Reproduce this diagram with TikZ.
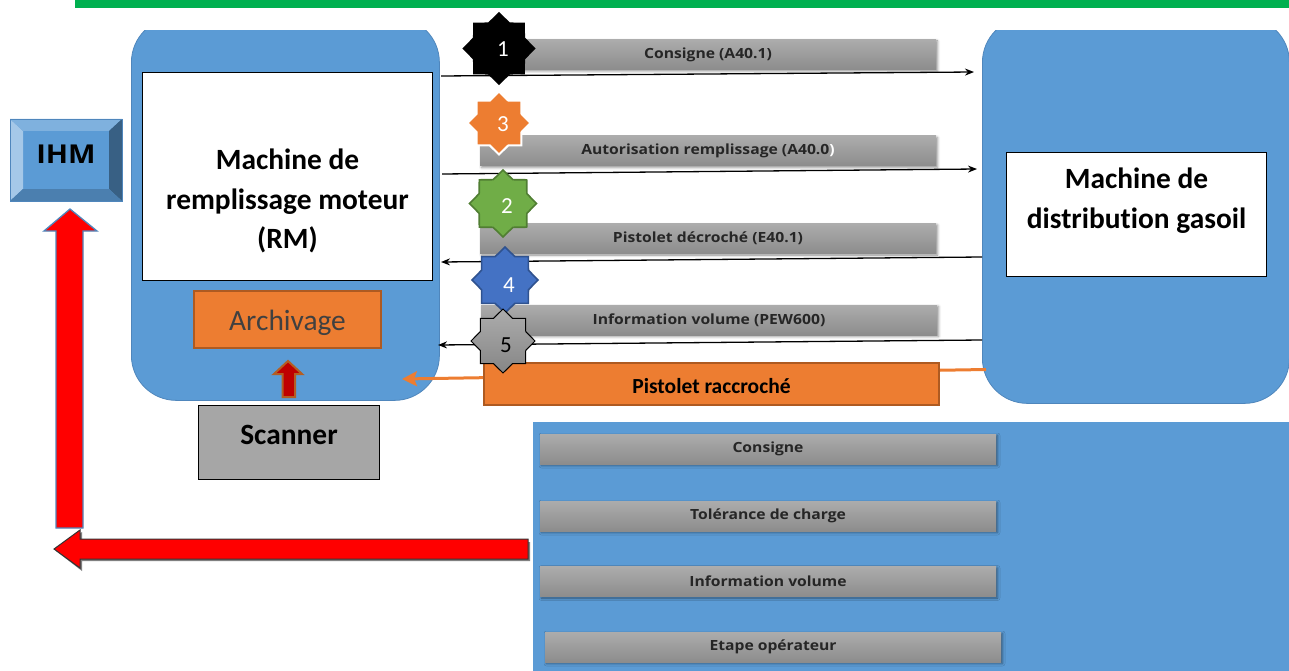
\documentclass[tikz,border=0pt]{standalone}
\usepackage{fontspec}
\setmainfont{Carlito}[Ligatures=NoCommon]
\newfontfamily\barfont[FakeStretch=1.12]{Open Sans}
\usetikzlibrary{shapes.geometric,shadows.blur,arrows.meta}
\definecolor{panelblue}{HTML}{5B9BD5}
\definecolor{panelline}{HTML}{4F86BC}
\definecolor{orangeA}{HTML}{ED7D31}
\definecolor{orangeD}{HTML}{AE5A21}
\definecolor{greenS}{HTML}{70AD47}
\definecolor{greenD}{HTML}{507E32}
\definecolor{blueS}{HTML}{4472C4}
\definecolor{blueD}{HTML}{2F528F}
\definecolor{topgreen}{HTML}{00B050}
\tikzset{
  x=1pt,y=-1pt,
  panel/.style={draw=panelline,line width=0.8pt,fill=panelblue,rounded corners=45pt,inner sep=0pt},
  whitebox/.style={draw=black,line width=1pt,fill=white,inner sep=2pt},
  boxtext/.style={align=center,font=\fontsize{29.4}{39.5}\selectfont\bfseries},
  graybar/.style={minimum width=456pt,minimum height=30pt,inner sep=0pt,top color=gray!65!white,bottom color=gray!90!white,
    font=\barfont\bfseries\fontsize{14}{16}\selectfont,text=black!85,
    blur shadow={shadow xshift=1.5pt,shadow yshift=-1.5pt,shadow blur radius=2.5pt,shadow opacity=45}},
  starbase/.style={star,star points=8,star point ratio=1.3,inner sep=0pt,minimum size=#1,line width=1.6pt,miter limit=10},
  num/.style={font=\fontsize{23}{26}\selectfont,text=white},
  flow/.style={line width=1.3pt,black,-{Stealth[length=9pt,width=7pt]}},
}
\begin{document}
\begin{tikzpicture}
\useasboundingbox (0,0) rectangle (1289,671);
\fill[topgreen] (75,0) rectangle (1289,8.5);

% panels
\begin{scope}
\clip (0,31) rectangle (1289,671);
\node[panel,minimum width=308pt,minimum height=383pt,anchor=north west] (rm) at (131,17) {};
\node[panel,minimum width=307pt,minimum height=386pt,anchor=north west] (dist) at (982,17) {};
\end{scope}
\node[draw=none,fill=panelblue,minimum width=756pt,minimum height=249pt,inner sep=0pt,anchor=north west] (info) at (533,422) {};

% gray bars
\node[graybar] (b1) at (708,54.5) {Consigne (A40.1)};
\node[graybar] (b2) at (708,151) {Autorisation remplissage (A40.0\textcolor{white}{)}};
\node[graybar] (b3) at (708,238.5) {Pistolet décroché (E40.1)};
\node[graybar] (b4) at (709,320) {Information volume (PEW600)};
\node[graybar] (c1) at (768,449) {Consigne};
\node[graybar] (c2) at (768,516) {Tolérance de charge};
\node[graybar] (c3) at (768,581.5) {Information volume};
\node[graybar] (c4) at (773,647) {Etape opérateur};

% boxes
\node[whitebox,minimum width=290pt,minimum height=208pt,anchor=north west,
  label={[boxtext,yshift=-24.5pt]center:{Machine de\\remplissage moteur\\(RM)}}] (rmbox) at (142,72) {};
\node[whitebox,minimum width=260pt,minimum height=124pt,anchor=north west,
  label={[boxtext,yshift=14pt]center:{Machine de\\distribution gasoil}}] (distbox) at (1006,152) {};
\node[draw=orangeD,line width=2pt,fill=orangeA,minimum width=187pt,minimum height=57pt,inner sep=0pt,text=black!75,
  text height=28pt,text depth=6pt,font=\fontsize{29.4}{32}\selectfont] (arch) at (287.5,319.5) {Archivage};
\node[draw=black,line width=1pt,fill=black!35,minimum width=181pt,minimum height=74pt,inner sep=0pt,
  text height=20pt,text depth=16pt,font=\fontsize{29.4}{32}\selectfont\bfseries] (scan) at (289,442.5) {Scanner};

% IHM bevel
\fill[panelblue] (10,119) rectangle (122,201);
\fill[panelblue!55!white] (10,119) -- (23,131) -- (23,189) -- (10,201) -- cycle;
\fill[panelblue!78!white] (10,119) -- (122,119) -- (109,131) -- (23,131) -- cycle;
\fill[panelblue!62!black] (122,119) -- (122,201) -- (109,189) -- (109,131) -- cycle;
\fill[panelblue!82!black] (10,201) -- (122,201) -- (109,189) -- (23,189) -- cycle;
\node[draw=panelline,line width=0.6pt,minimum width=112pt,minimum height=82pt,inner sep=0pt,
  text height=18pt,text depth=11pt,font=\barfont\bfseries\fontsize{26}{28}\selectfont] (ihm) at (66,160) {IHM};

% connectors
\coordinate (a1s) at (441,76); \coordinate (a1e) at (974,72);
\coordinate (a2s) at (442,174); \coordinate (a2e) at (977,169);
\coordinate (a3s) at (982,257); \coordinate (a3e) at (441,262);
\coordinate (a4s) at (982,340); \coordinate (a4e) at (438,345);
\draw[flow] (a1s) -- (a1e);
\draw[flow] (a2s) -- (a2e);
\draw[flow] (a3s) -- (a3e);
\draw[flow] (a4s) -- (a4e);

% orange connector and box
\coordinate (o1) at (986,369.5); \coordinate (o2) at (402,379);
\draw[orangeA,line width=3pt,-{Stealth[length=15pt,width=15pt,inset=3pt]}] (o1) -- (o2);
\node[draw=orangeD,line width=2pt,fill=orangeA,minimum width=455pt,minimum height=42pt,inner sep=0pt,
  text height=20pt,text depth=0pt,font=\fontsize{21.5}{24}\selectfont\bfseries] (pist) at (711.5,383.5) {Pistolet raccroché};

% stars
\node[starbase=71pt,fill=black,draw=black,label={[num,xshift=4pt,yshift=-1pt]center:1}] (s1) at (499,48.5) {};
\node[starbase=63pt,fill=orangeA,draw=white,line width=2pt,label={[num,xshift=4pt,yshift=-1pt]center:3}] (s3) at (499,123) {};
\node[starbase=67pt,fill=greenS,draw=greenD,label={[num,xshift=4pt,yshift=-3pt]center:2}] (s2) at (503,203.5) {};
\node[starbase=66pt,fill=blueS,draw=blueD,label={[num,xshift=4pt,yshift=-5pt]center:4}] (s4) at (505,280) {};
\node[starbase=64pt,top color=gray!65!white,bottom color=gray!95!white,draw=black,line width=1pt,label={[num,text=black,xshift=3pt,yshift=-4pt]center:5}] (s5) at (503,341) {};

% red arrows
\draw[panelline,line width=1.3pt,fill=red,line join=miter]
  (56,528) -- (56,231) -- (44,231) -- (70,209) -- (97,231) -- (83,231) -- (83,528) -- cycle;
\fill[black!50] (530,542) -- (82,542) -- (82,532) -- (56,551) -- (82,571) -- (82,561) -- (530,561) -- cycle;
\draw[black!80,line width=1pt,fill=red,line join=miter]
  (528,539) -- (80,539) -- (80,530) -- (54,549) -- (80,568) -- (80,559) -- (528,559) -- cycle;
\draw[orangeD!90!orangeA,line width=2pt,fill=red!75!black,line join=miter]
  (282.5,397) -- (282.5,374) -- (274,374) -- (288,361) -- (302,374) -- (295,374) -- (295,397) -- cycle;
\end{tikzpicture}
\end{document}
